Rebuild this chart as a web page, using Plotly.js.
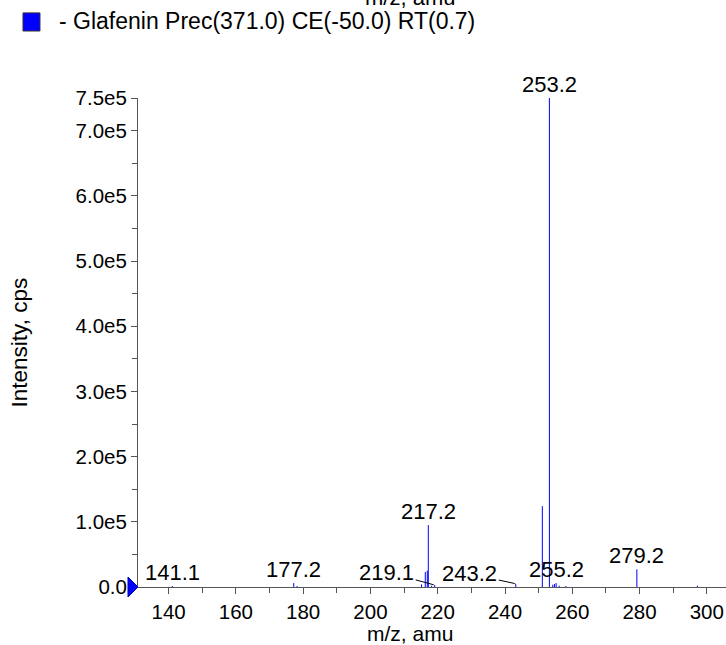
<!DOCTYPE html>
<html><head><meta charset="utf-8">
<script src="https://cdn.plot.ly/plotly-3.0.1.min.js"></script>
<style>html,body{margin:0;padding:0;background:#fff}#chart{width:726px;height:645px}</style>
</head><body><div id="chart"></div>
<script>
// ---- data ----
const seriesName = "- Glafenin Prec(371.0) CE(-50.0) RT(0.7)";
const mz =        [141.1, 177.2, 178.2, 215.2, 216.3, 216.9, 217.2, 218.2, 219.1, 243.2, 251.1, 253.2, 254.2, 254.7, 255.2, 256.1, 258.1, 279.2, 297.2];
const intensity = [1500,  6000,  1500,  4000,  23000, 25000, 95000, 2000,  3000,  5000,  124000, 750000, 3500, 4500,  6000,  2000,  1500,  27000, 2000];
const peakLabels = ["141.1", "177.2", "217.2", "219.1", "243.2", "253.2", "255.2", "279.2"];
const peakLabelMz = [141.1, 177.2, 217.2, 219.1, 243.2, 253.2, 255.2, 279.2];
const xTickVals = [140, 160, 180, 200, 220, 240, 260, 280, 300];
const yTickVals = [0, 100000, 200000, 300000, 400000, 500000, 600000, 700000, 750000];
const yTickText = ["0.0", "1.0e5", "2.0e5", "3.0e5", "4.0e5", "5.0e5", "6.0e5", "7.0e5", "7.5e5"];
const xTitle = "m/z, amu";
const yTitle = "Intensity, cps";

// ---- view settings ----
const xRange = [130.9, 305.7];
const yRange = [0, 750000];
const FONT = '"Liberation Sans", Arial, Helvetica, sans-serif';
const leader = {"219.1": [-48, -13], "243.2": [-46, -10]};

// stick spectrum
const sx = [], sy = [];
mz.forEach((m, i) => { sx.push(m, m, null); sy.push(0, intensity[i], null); });

const trace = {
  x: sx, y: sy, type: 'scatter', mode: 'lines',
  line: {color: '#0000ff', width: 1}, hoverinfo: 'skip', showlegend: false
};

const annotations = peakLabels.map((t, k) => {
  const m = peakLabelMz[k];
  const i = mz.indexOf(m);
  const yv = i >= 0 ? intensity[i] : 0;
  const base = {x: m, y: yv, xref: 'x', yref: 'y', text: t,
    font: {family: FONT, size: 22, color: '#000'}};
  if (leader[t]) {
    return Object.assign(base, {showarrow: true, arrowhead: 0, arrowwidth: 1,
      arrowcolor: '#000', ax: leader[t][0], ay: leader[t][1], standoff: 1});
  }
  return Object.assign(base, {showarrow: false, yanchor: 'bottom', yshift: -1});
});

// legend text
annotations.push({xref: 'paper', yref: 'paper', x: -0.1378, y: 1.1575, xanchor: 'left', yanchor: 'middle',
  text: seriesName, showarrow: false, font: {family: FONT, size: 23, color: '#000'}});
// clipped title of previous panel at top
annotations.push({xref: 'paper', yref: 'paper', x: 0.4626, y: 1.2065, xanchor: 'center', yanchor: 'middle',
  text: xTitle, showarrow: false, font: {family: FONT, size: 22, color: '#000'}});
// x title
annotations.push({xref: 'paper', yref: 'paper', x: 0.4626, y: -0.0941, xanchor: 'center', yanchor: 'middle',
  text: xTitle, showarrow: false, font: {family: FONT, size: 21, color: '#000'}});
// y title
annotations.push({xref: 'paper', yref: 'paper', x: -0.2007, y: 0.5, xanchor: 'center', yanchor: 'middle',
  text: yTitle, textangle: -90, showarrow: false, font: {family: FONT, size: 22.5, color: '#000'}});

const shapes = [
  // legend swatch
  {type: 'rect', xref: 'paper', yref: 'paper', x0: -0.1956, x1: -0.1667, y0: 1.137, y1: 1.174,
   fillcolor: '#0000ff', line: {color: '#333', width: 1}},
  // baseline marker at the y-axis
  {type: 'path', xref: 'paper', yref: 'paper', xsizemode: 'pixel', ysizemode: 'pixel',
   xanchor: 0, yanchor: 0, path: 'M-10,-10 L0,0 L-10,10 Z',
   fillcolor: '#0000ff', line: {color: '#0000aa', width: 1}}
];

const axisCommon = {
  showgrid: false, zeroline: false, showline: true, linecolor: '#555', linewidth: 1,
  ticks: 'outside', ticklen: 6, tickwidth: 1, tickcolor: '#555',
  tickfont: {family: FONT, size: 20.5, color: '#000'}
};

const layout = {
  width: 726, height: 645,
  margin: {l: 138, r: 0, t: 98, b: 58},
  paper_bgcolor: '#fff', plot_bgcolor: '#fff',
  showlegend: false,
  xaxis: Object.assign({}, axisCommon, {
    range: xRange, tickmode: 'array', tickvals: xTickVals,
    minor: {dtick: 10, tick0: 0, ticks: 'outside', ticklen: 5, tickcolor: '#555'}
  }),
  yaxis: Object.assign({}, axisCommon, {
    range: yRange, tickmode: 'array', tickvals: yTickVals, ticktext: yTickText,
    minor: {dtick: 50000, tick0: 0, ticks: 'outside', ticklen: 5, tickcolor: '#555'}
  }),
  annotations: annotations,
  shapes: shapes
};

Plotly.newPlot('chart', [trace], layout, {staticPlot: true, displayModeBar: false});
</script>
</body></html>
